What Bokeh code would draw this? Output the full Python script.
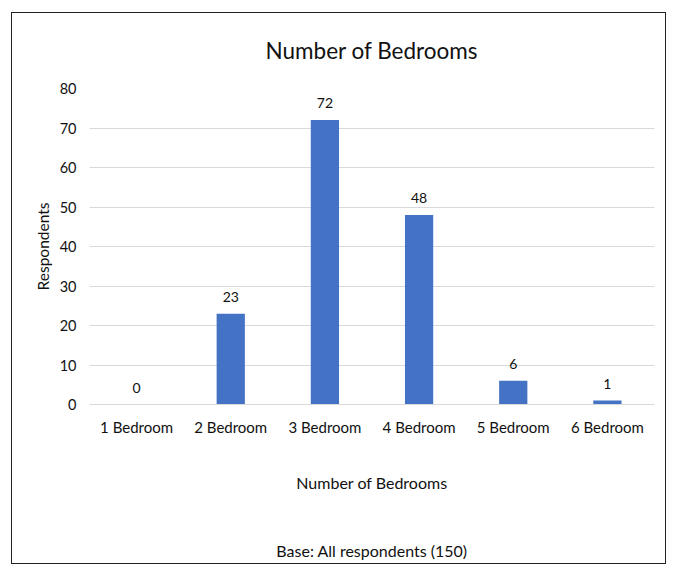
from bokeh.plotting import figure
from bokeh.models import ColumnDataSource, LabelSet, Range1d, FixedTicker
from bokeh.core.properties import value
from bokeh.embed import file_html
from bokeh.resources import INLINE

categories = ["1 Bedroom", "2 Bedroom", "3 Bedroom", "4 Bedroom", "5 Bedroom", "6 Bedroom"]
respondents = [0, 23, 72, 48, 6, 1]
y_ticks = [0, 10, 20, 30, 40, 50, 60, 70, 80]

FONT = "Lato"
TXT = "#111111"
BLUE = "#4472C4"

src = ColumnDataSource(dict(cat=categories, val=respondents,
                            lbl=[str(v) for v in respondents]))

p = figure(x_range=categories, y_range=Range1d(0, 80),
           width=655, height=552, output_backend="svg", toolbar_location=None,
           min_border_left=77, min_border_right=13, min_border_top=75,
           min_border_bottom=161)

p.styles = {"border": "1.5px solid #222", "margin-left": "11px", "margin-top": "12px"}

p.title.text = "Number of Bedrooms"
p.title.align = "center"
p.title.vertical_align = "top"
p.title.text_font = FONT
p.title.text_font_size = "22.5px"
p.title.text_font_style = "normal"
p.title.text_color = TXT
p.title.offset = 0
p.title.standoff = 46

p.vbar(x="cat", top="val", width=0.3, source=src, color=BLUE, line_color=None)

labels = LabelSet(x="cat", y="val", text="lbl", source=src, y_offset=12,
                  text_align="center", text_baseline="bottom",
                  text_font=value(FONT), text_font_size="14px", text_color=TXT)
p.add_layout(labels)

p.x_range.range_padding = 0
p.outline_line_color = None
p.background_fill_color = "white"
p.border_fill_color = "white"

p.xgrid.grid_line_color = None
p.ygrid.grid_line_color = "#d9d9d9"
p.ygrid.grid_line_width = 1
p.yaxis.ticker = FixedTicker(ticks=y_ticks)

for ax in (p.xaxis[0], p.yaxis[0]):
    ax.major_tick_line_color = None
    ax.minor_tick_line_color = None
    ax.major_label_text_font = FONT
    ax.major_label_text_color = TXT
    ax.axis_label_text_font = FONT
    ax.axis_label_text_font_style = "normal"
    ax.axis_label_text_color = TXT

p.yaxis.major_label_text_font_size = "14.5px"
p.xaxis.major_label_text_font_size = "15px"
p.yaxis.axis_label_text_font_size = "15.5px"
p.xaxis.axis_label_text_font_size = "16px"

p.yaxis.axis_line_color = None
p.xaxis.axis_line_color = "#d9d9d9"
p.yaxis.axis_label = "Respondents"
p.yaxis.major_label_standoff = 7
p.yaxis.axis_label_standoff = 5
p.xaxis.axis_label = "Number of Bedrooms\n\n\nBase: All respondents (150)"
p.xaxis.major_label_standoff = 7
p.xaxis.axis_label_standoff = 34

open("out.html", "w").write(file_html(p, INLINE))
